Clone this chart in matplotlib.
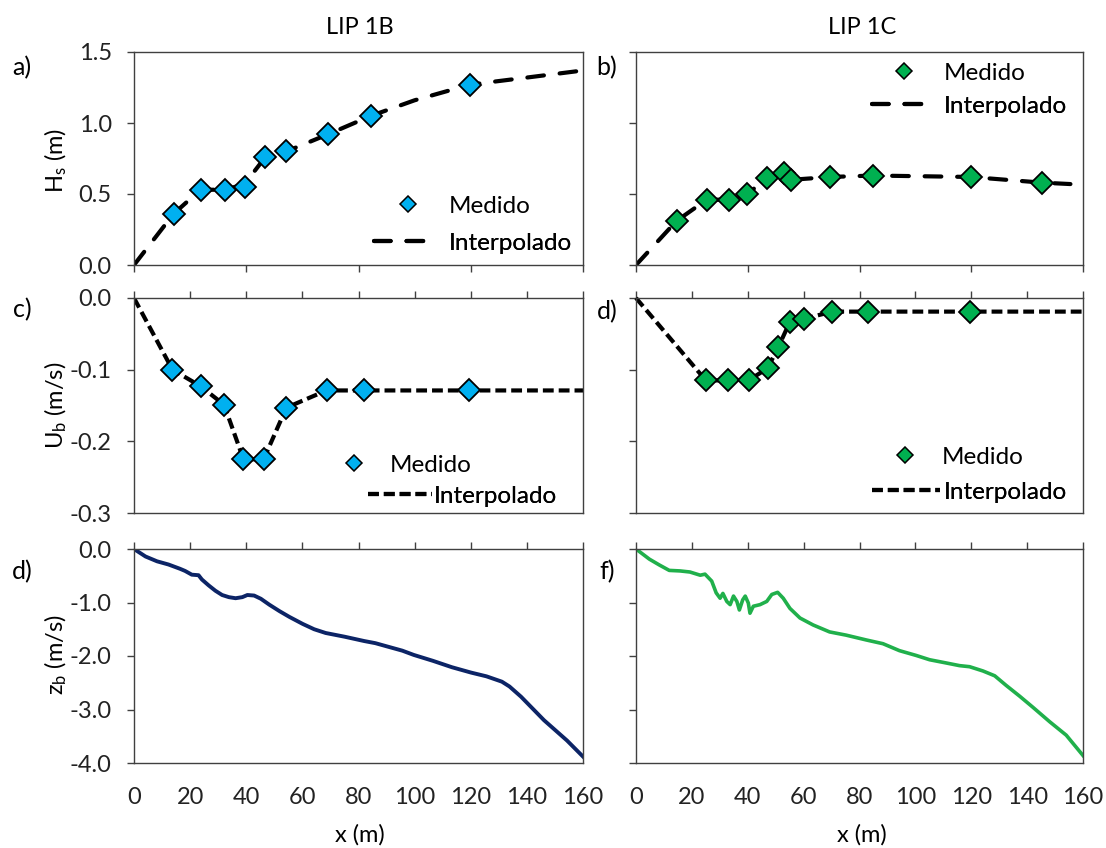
import numpy as np
import matplotlib
matplotlib.use("Agg")
import matplotlib.pyplot as plt
from matplotlib.lines import Line2D

plt.rcParams['font.family'] = ['Lato', 'DejaVu Sans']
plt.rcParams['mathtext.fontset'] = 'custom'
plt.rcParams['mathtext.rm'] = 'Lato'
plt.rcParams['mathtext.it'] = 'Lato'
plt.rcParams['axes.unicode_minus'] = False

# ---- data ----
# Hs, LIP 1B
hs_b_x = [14.1, 23.7, 32.5, 39.4, 46.8, 54.3, 69.1, 84.4, 119.7]
hs_b_y = [0.36, 0.53, 0.53, 0.55, 0.76, 0.80, 0.92, 1.05, 1.27]
hs_b_int_x = [0, 14.1, 23.7, 32.5, 39.4, 46.8, 54.3, 69.1, 84.4, 100, 119.7, 140, 160]
hs_b_int_y = [0, 0.36, 0.53, 0.53, 0.57, 0.76, 0.80, 0.92, 1.05, 1.16, 1.27, 1.32, 1.37]

# Hs, LIP 1C
hs_c_x = [14.5, 25.3, 33.2, 39.8, 46.8, 52.9, 55.5, 69.6, 85.0, 119.8, 145.3]
hs_c_y = [0.31, 0.46, 0.46, 0.50, 0.61, 0.65, 0.60, 0.62, 0.63, 0.62, 0.58]
hs_c_int_x = [0, 14.5, 25.3, 33.2, 39.8, 46.8, 52.9, 55.5, 69.6, 85.0, 119.8, 145.3, 155.5]
hs_c_int_y = [0, 0.31, 0.46, 0.46, 0.50, 0.61, 0.65, 0.60, 0.62, 0.63, 0.62, 0.58, 0.57]

# Ub, LIP 1B
ub_b_x = [13.7, 23.7, 32.1, 39.0, 46.2, 54.3, 68.6, 81.8, 119.2]
ub_b_y = [-0.100, -0.123, -0.149, -0.225, -0.225, -0.153, -0.129, -0.129, -0.129]
ub_b_int_x = [0, 13.7, 23.7, 32.1, 39.0, 46.2, 54.3, 68.6, 81.8, 119.2, 160]
ub_b_int_y = [0, -0.100, -0.123, -0.149, -0.225, -0.225, -0.153, -0.129, -0.129, -0.129, -0.129]

# Ub, LIP 1C
ub_c_x = [25.0, 33.0, 40.3, 47.1, 51.0, 55.0, 60.2, 70.3, 83.2, 119.4]
ub_c_y = [-0.115, -0.115, -0.115, -0.098, -0.068, -0.034, -0.029, -0.019, -0.019, -0.019]
ub_c_int_x = [0, 25.0, 33.0, 40.3, 47.1, 51.0, 55.0, 60.2, 70.3, 83.2, 119.4, 160]
ub_c_int_y = [0, -0.115, -0.115, -0.115, -0.098, -0.068, -0.034, -0.029, -0.019, -0.019, -0.019, -0.019]

# zb, LIP 1B
zb_b_x = [0, 4.1, 8.2, 12.3, 16.4, 18.2, 20.6, 23.0, 24.2, 26.6, 29.0, 31.4, 33.8, 36.2,
          38.6, 40.4, 42.8, 45.2, 48.2, 51.8, 55.4, 60.1, 64.2, 68.3, 75.1, 82.0, 86.0,
          90.1, 95.6, 99.7, 106.5, 113.3, 120.1, 125.6, 131.1, 133.8, 137.9, 142.0,
          146.1, 150.2, 154.3, 160]
zb_b_y = [0, -0.14, -0.23, -0.29, -0.37, -0.41, -0.48, -0.49, -0.57, -0.68, -0.78, -0.86,
          -0.90, -0.92, -0.90, -0.86, -0.87, -0.93, -1.04, -1.16, -1.27, -1.40, -1.50,
          -1.57, -1.64, -1.72, -1.76, -1.82, -1.90, -1.98, -2.09, -2.21, -2.31, -2.38,
          -2.48, -2.57, -2.76, -2.98, -3.20, -3.39, -3.58, -3.88]

# zb, LIP 1C
zb_c_x = [0, 4.8, 8.4, 11.9, 15.8, 19.3, 23.0, 24.7, 27.1, 28.7, 30.1, 31.1, 32.5, 33.7,
          34.9, 36.1, 37.0, 38.2, 39.1, 40.2, 40.8, 42.0, 44.4, 46.8, 48.6, 50.7, 52.7,
          55.1, 58.7, 63.4, 69.3, 75.2, 82.4, 88.4, 94.3, 100.3, 105.1, 111.0, 115.8,
          119.4, 124.2, 128.4, 132.5, 137.3, 142.1, 148.1, 154.0, 160]
zb_c_y = [0, -0.19, -0.30, -0.40, -0.41, -0.43, -0.49, -0.47, -0.60, -0.82, -0.92, -0.83,
          -0.98, -1.04, -0.88, -0.98, -1.14, -0.95, -0.88, -1.01, -1.20, -1.07, -1.04,
          -0.98, -0.85, -0.81, -0.92, -1.11, -1.29, -1.42, -1.55, -1.61, -1.70, -1.77,
          -1.90, -1.99, -2.07, -2.13, -2.18, -2.20, -2.28, -2.37, -2.55, -2.75, -2.96,
          -3.23, -3.48, -3.86]

x_ticks_major = [0, 40, 80, 120, 160]
x_ticks_fine = [0, 20, 40, 60, 80, 100, 120, 140, 160]
hs_ticks = [0.0, 0.5, 1.0, 1.5]
ub_ticks = [0.0, -0.1, -0.2, -0.3]
zb_ticks = [0.0, -1.0, -2.0, -3.0, -4.0]

blue = '#00b0f0'
green = '#00b050'
navy = '#0c2466'
green_line = '#20b04b'
edge = '#404040'
fs = 17
fs_leg = 17.5

fig = plt.figure(figsize=(11.06, 8.48), dpi=100)
W, H = 1106.0, 848.0
em = fs_leg * 100 / 72.0  # legend font size in pixels


def make_ax(x0, x1, y0, y1):
    return fig.add_axes([x0 / W, 1 - y1 / H, (x1 - x0) / W, (y1 - y0) / H])


def entry(ax, handle, label, x0, x1, ytext, xtext):
    # one legend row: handle spans x0..x1 px, text starts at xtext px, row centred at ytext px
    leg = ax.legend([handle], [label], loc='center left', frameon=False, fontsize=fs_leg,
                    bbox_to_anchor=(x0 / W, 1 - ytext / H), bbox_transform=fig.transFigure,
                    borderpad=0, borderaxespad=0, handlelength=(x1 - x0) / em,
                    handletextpad=(xtext - x1) / em, handleheight=0.7)
    ax.add_artist(leg)


cols = [(134, 583), (636, 1083)]
rows = [(52, 265), (298, 513), (549, 763)]
axs = [[make_ax(c[0], c[1], r[0], r[1]) for c in cols] for r in rows]

long_dash = (0, (4.0, 3.8))
short_dash = (0, (2.6, 1.2))

for i, row in enumerate(axs):
    for j, ax in enumerate(row):
        ax.set_xlim(0, 160)
        for s in ax.spines.values():
            s.set_color(edge)
            s.set_linewidth(1.0)
        ax.tick_params(colors=edge, labelcolor='#222222', labelsize=fs, length=5,
                       width=1, direction='out', pad=11)
        if i == 0:
            ax.set_xticks(x_ticks_major)
            ax.tick_params(axis='x', labelbottom=False)
        else:
            ax.set_xticks(x_ticks_fine)
            ax.tick_params(axis='x', top=True, bottom=False, labeltop=False,
                           labelbottom=(i == 2), pad=12)
        if j == 1:
            ax.tick_params(axis='y', labelleft=False)

mk = dict(marker='D', mec='black', mew=1.3, ms=11.5, linestyle='none', zorder=3)
lg_ms = 8.5


def medido(color):
    return Line2D([], [], marker='D', color=color, mec='black', mew=1.1, ms=lg_ms,
                  linestyle='none')


def interp(style, cap='butt'):
    return Line2D([], [], color='black', lw=3, linestyle=style, dash_capstyle=cap)


# row 1: Hs
ax = axs[0][0]
ax.plot(hs_b_int_x, hs_b_int_y, color='black', lw=3, linestyle=long_dash,
        dash_capstyle='round', zorder=2)
ax.plot(hs_b_x, hs_b_y, color=blue, **mk)
ax.set_ylim(0, 1.5)
ax.set_yticks(hs_ticks)
ax.set_yticklabels(['%.1f' % v for v in hs_ticks])
entry(ax, medido(blue), 'Medido', 388, 428, 206, 449)
entry(ax, interp(long_dash, 'round'), 'Interpolado', 374, 430, 243, 449)

ax = axs[0][1]
ax.plot(hs_c_int_x, hs_c_int_y, color='black', lw=3, linestyle=long_dash,
        dash_capstyle='round', zorder=2)
ax.plot(hs_c_x, hs_c_y, color=green, **mk)
ax.set_ylim(0, 1.5)
ax.set_yticks(hs_ticks)
entry(ax, medido(green), 'Medido', 884, 924, 73, 944)
entry(ax, interp(long_dash, 'round'), 'Interpolado', 872, 922, 106, 944)

# row 2: Ub
ax = axs[1][0]
ax.plot(ub_b_int_x, ub_b_int_y, color='black', lw=3, linestyle=short_dash, zorder=2)
ax.plot(ub_b_x, ub_b_y, color=blue, **mk)
ax.set_ylim(-0.3, 0)
ax.set_yticks(ub_ticks)
ax.set_yticklabels(['%.1f' % v for v in ub_ticks])
entry(ax, medido(blue), 'Medido', 334, 374, 465, 390)
entry(ax, interp(short_dash), 'Interpolado', 368, 432, 496, 434)

ax = axs[1][1]
ax.plot(ub_c_int_x, ub_c_int_y, color='black', lw=3, linestyle=short_dash,
        zorder=2, clip_on=False)
ax.plot(ub_c_x, ub_c_y, color=green, **mk)
ax.set_ylim(-0.3, 0)
ax.set_yticks(ub_ticks)
entry(ax, medido(green), 'Medido', 885, 925, 457, 942)
entry(ax, interp(short_dash), 'Interpolado', 872, 940, 492, 944)

# row 3: zb
ax = axs[2][0]
ax.plot(zb_b_x, zb_b_y, color=navy, lw=2.8, solid_joinstyle='round')
ax.set_ylim(-4, 0)
ax.set_yticks(zb_ticks)
ax.set_yticklabels(['%.1f' % v for v in zb_ticks])

ax = axs[2][1]
ax.plot(zb_c_x, zb_c_y, color=green_line, lw=2.6, solid_joinstyle='round')
ax.set_ylim(-4, 0)
ax.set_yticks(zb_ticks)

for ax in axs[2]:
    ax.set_xticklabels([str(v) for v in x_ticks_fine])

# titles, axis labels, panel letters
fig.text(360 / W, 1 - 28 / H, 'LIP 1B', ha='center', va='center', fontsize=fs)
fig.text(862 / W, 1 - 28 / H, 'LIP 1C', ha='center', va='center', fontsize=fs)
fig.text(360 / W, 1 - 835 / H, 'x (m)', ha='center', va='center', fontsize=fs)
fig.text(862 / W, 1 - 835 / H, 'x (m)', ha='center', va='center', fontsize=fs)
fig.text(56 / W, 1 - 160 / H, r'H$_\mathrm{s}$ (m)', ha='center', va='center',
         rotation=90, fontsize=fs)
fig.text(56 / W, 1 - 405 / H, r'U$_\mathrm{b}$ (m/s)', ha='center', va='center',
         rotation=90, fontsize=fs)
fig.text(56 / W, 1 - 655 / H, r'z$_\mathrm{b}$ (m/s)', ha='center', va='center',
         rotation=90, fontsize=fs)

panel = [('a)', 22, 68), ('b)', 607, 68), ('c)', 22, 310), ('d)', 607, 312),
         ('d)', 22, 572), ('f)', 607, 572)]
for txt, px, py in panel:
    fig.text(px / W, 1 - py / H, txt, ha='center', va='center', fontsize=fs + 1)

fig.savefig('out.png', dpi=100)
